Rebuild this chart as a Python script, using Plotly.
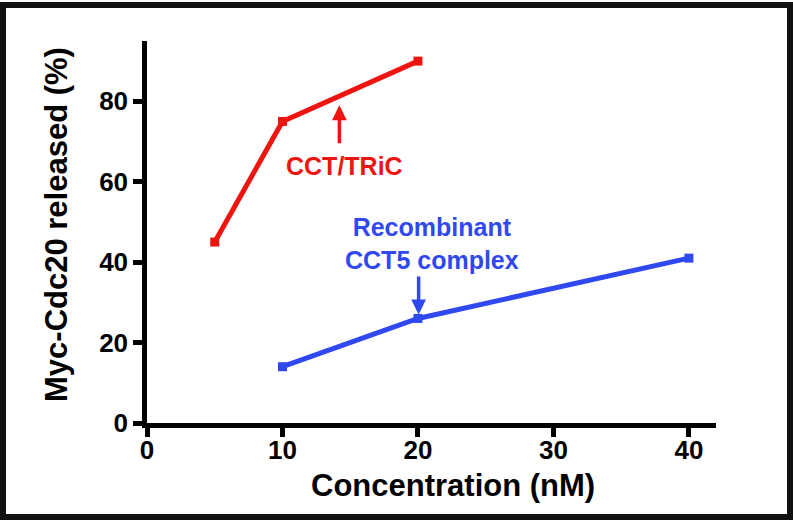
import plotly.graph_objects as go

# Data
cct_x = [5, 10, 20]
cct_y = [45, 75, 90]
rec_x = [10, 20, 40]
rec_y = [14, 26, 41]
x_ticks = [0, 10, 20, 30, 40]
y_ticks = [0, 20, 40, 60, 80]

RED = "#EE1410"
BLUE = "#3048F0"
FONT = "Liberation Sans, Arial, Helvetica, sans-serif"

W, H = 793, 520
L, R, T, B = 147, 77, 41, 97
PW, PH = W - L - R, H - T - B


def px(xp):
    return (xp - L) / PW


def py(yp):
    return (H - B - yp) / PH


fig = go.Figure()
fig.add_trace(go.Scatter(x=cct_x, y=cct_y, mode="lines+markers",
                         line=dict(color=RED, width=5),
                         marker=dict(symbol="square", size=9, color=RED),
                         showlegend=False))
fig.add_trace(go.Scatter(x=rec_x, y=rec_y, mode="lines+markers",
                         line=dict(color=BLUE, width=5),
                         marker=dict(symbol="square", size=9, color=BLUE),
                         showlegend=False))


def axis_common():
    return dict(showline=True, linecolor="black", linewidth=4.5,
                ticks="outside", ticklen=9, tickwidth=4.5, tickcolor="black",
                showgrid=False, zeroline=False,
                tickfont=dict(family=FONT, size=26, color="black", weight="bold"))


fig.update_xaxes(range=[0, 42], tickvals=x_ticks,
                 ticktext=["<b>%d</b>" % v for v in x_ticks],
                 ticklabelstandoff=-9, **axis_common())
fig.update_yaxes(range=[0, 95], tickvals=y_ticks,
                 ticktext=["<b>%d</b>" % v for v in y_ticks], **axis_common())

annotations = [
    # axis titles
    dict(text="<b>Concentration (nM)</b>", x=px(453), y=py(485), xref="paper", yref="paper",
         showarrow=False, xanchor="center", yanchor="middle",
         font=dict(family=FONT, size=31, color="black", weight="bold")),
    dict(text="<b>Myc-Cdc20 released (%)</b>", x=px(57), y=py(225), xref="paper", yref="paper",
         showarrow=False, xanchor="center", yanchor="middle", textangle=-90,
         font=dict(family=FONT, size=31, color="black", weight="bold")),
    # labels
    dict(text="<b>CCT/TRiC</b>", x=px(344), y=py(166), xref="paper", yref="paper",
         showarrow=False, xanchor="center", yanchor="middle",
         font=dict(family=FONT, size=25, color=RED, weight="bold")),
    dict(text="<b>Recombinant</b><br><b>CCT5 complex</b>", x=px(432), y=py(244),
         xref="paper", yref="paper",
         showarrow=False, xanchor="center", yanchor="middle",
         font=dict(family=FONT, size=25, color=BLUE, weight="bold")),
    # arrows
    dict(text="", x=14.2, y=79, ax=14.2, ay=69.2, xref="x", yref="y", axref="x", ayref="y",
         showarrow=True, arrowhead=2, arrowwidth=3.5, arrowsize=0.85, arrowcolor=RED,
         standoff=0),
    dict(text="", x=20.05, y=27, ax=20.05, ay=36.8, xref="x", yref="y", axref="x", ayref="y",
         showarrow=True, arrowhead=2, arrowwidth=3.5, arrowsize=0.85, arrowcolor=BLUE,
         standoff=0),
]

shapes = [dict(type="rect", xref="paper", yref="paper",
               x0=px(3), x1=px(790), y0=py(517), y1=py(5),
               line=dict(color="#111111", width=6), fillcolor="rgba(0,0,0,0)")]

fig.update_layout(width=W, height=H, margin=dict(l=L, r=R, t=T, b=B),
                  plot_bgcolor="white", paper_bgcolor="white",
                  annotations=annotations, shapes=shapes)

fig.write_html("out.html", config={"displayModeBar": False},
               post_script="document.body.style.margin='0px';document.body.style.padding='0px';")
